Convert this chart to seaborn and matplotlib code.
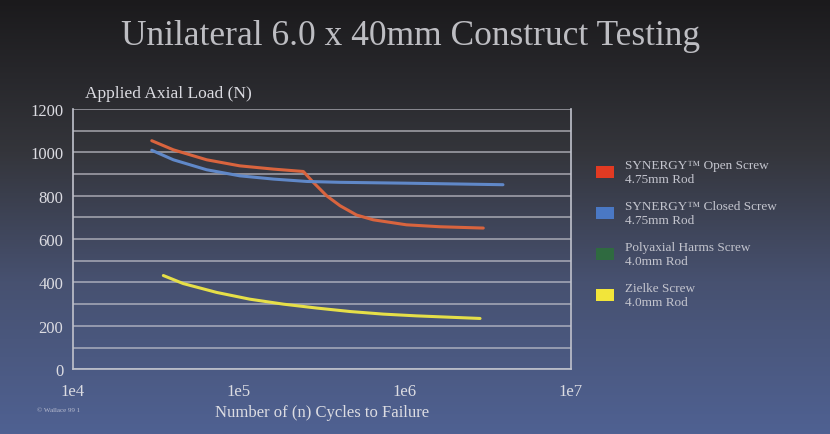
import numpy as np
import pandas as pd
import seaborn as sns
import matplotlib.pyplot as plt
from matplotlib.colors import LinearSegmentedColormap
from matplotlib.patches import Patch
from matplotlib.ticker import FixedLocator, FixedFormatter, MultipleLocator

# cycles to failure (x) and applied load in N (y)
open_cycles = [29800, 40200, 63800, 101000, 161000, 244000, 280000, 337000, 406000,
               511000, 644000, 1020000, 1630000, 2960000]
open_load = [1054, 1012, 966, 938, 923, 912, 862, 800, 754, 711, 689, 666, 657, 651]

closed_cycles = [29800, 40200, 63800, 101000, 161000, 256000, 406000, 1020000, 3890000]
closed_load = [1010, 966, 920, 892, 877, 866, 862, 858, 851]

zielke_cycles = [35000, 46100, 73400, 116000, 185000, 294000, 466000, 740000, 1170000, 2830000]
zielke_load = [432, 395, 354, 323, 300, 282, 266, 254, 246, 234]

series_names = ["Open", "Closed", "Zielke"]
legend_labels = ["SYNERGY\u2122 Open Screw\n4.75mm Rod",
                 "SYNERGY\u2122 Closed Screw\n4.75mm Rod",
                 "Polyaxial Harms Screw\n4.0mm Rod",
                 "Zielke Screw\n4.0mm Rod"]
legend_colors = ["#e23a22", "#4a78c4", "#2f6a40", "#f2e53a"]
line_colors = {"Open": "#d9643e", "Closed": "#6088c8", "Zielke": "#e6df48"}

x_ticks = [1e4, 1e5, 1e6, 1e7]
x_ticklabels = ["1e4", "1e5", "1e6", "1e7"]
y_ticks = [0, 200, 400, 600, 800, 1000, 1200]

df = pd.concat([
    pd.DataFrame({"cycles": open_cycles, "load": open_load, "series": "Open"}),
    pd.DataFrame({"cycles": closed_cycles, "load": closed_load, "series": "Closed"}),
    pd.DataFrame({"cycles": zielke_cycles, "load": zielke_load, "series": "Zielke"}),
])

sns.set_theme(style="white")
plt.rcParams['font.family'] = ['Liberation Serif', 'DejaVu Serif']
txt = "#dcdce2"

fig = plt.figure(figsize=(8.3, 4.35), dpi=100)

# slide background gradient
bg = fig.add_axes([0, 0, 1, 1], zorder=-10)
cmap = LinearSegmentedColormap.from_list("slide", [(0, "#1b1a1c"), (0.35, "#34353b"),
                                                   (0.65, "#475170"), (1, "#4f6192")])
bg.imshow(np.linspace(0, 1, 256)[:, None], aspect="auto", cmap=cmap, extent=[0, 1, 0, 1])
bg.set_axis_off()

ax = fig.add_axes([0.088, 0.149, 0.600, 0.598])
ax.set_facecolor("none")

sns.lineplot(data=df, x="cycles", y="load", hue="series", hue_order=series_names,
             palette=line_colors, linewidth=2.2, legend=False, ax=ax, sort=False)

ax.set_xscale("log")
ax.set_xlim(1e4, 1e7)
ax.set_ylim(0, 1200)
ax.xaxis.set_major_locator(FixedLocator(x_ticks))
ax.xaxis.set_major_formatter(FixedFormatter(x_ticklabels))
ax.xaxis.set_minor_locator(FixedLocator([]))
ax.yaxis.set_major_locator(FixedLocator(y_ticks))
ax.yaxis.set_minor_locator(MultipleLocator(100))
ax.grid(True, which="both", axis="y", color="#c8c8d0", linewidth=1.2, alpha=0.7)
ax.grid(False, axis="x")
ax.tick_params(axis="both", which="both", length=0, colors=txt, labelsize=12)
ax.tick_params(axis="x", pad=10)
ax.tick_params(axis="y", pad=7)
for s in ["left", "bottom", "right"]:
    ax.spines[s].set_color("#c0c2cc")
    ax.spines[s].set_linewidth(1.2)
ax.spines["top"].set_visible(False)
ax.set_xlabel("")
ax.set_ylabel("")

fig.text(0.102, 0.775, "Applied Axial Load (N)", color=txt, fontsize=12.5)
fig.text(0.388, 0.042, "Number of (n) Cycles to Failure", color=txt, fontsize=12, ha="center")
fig.text(0.045, 0.053, "\u00a9 Wallace 99 1", color="#b8bcd0", fontsize=5)
fig.text(0.494, 0.915, "Unilateral 6.0 x 40mm Construct Testing", color="#bdbdc2",
         fontsize=25.5, ha="center", va="center")

handles = [Patch(facecolor=c, edgecolor="none") for c in legend_colors]
fig.legend(handles, legend_labels, loc="upper left", bbox_to_anchor=(0.718, 0.632),
           frameon=False, fontsize=9.5, labelcolor="#c4c5ce", handlelength=1.4,
           handleheight=1.1, labelspacing=1.15, handletextpad=0.8, borderpad=0,
           borderaxespad=0)

fig.savefig("out.png", dpi=100)
